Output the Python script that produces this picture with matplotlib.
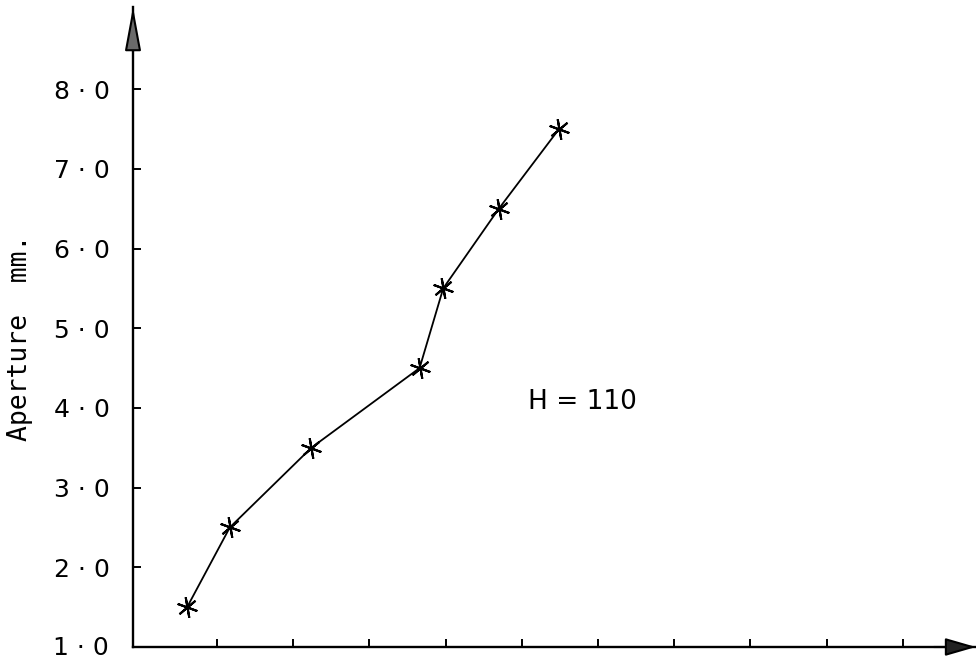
import matplotlib
matplotlib.use("Agg")
import matplotlib.pyplot as plt

# Aperture readings along the (unlabelled) horizontal scale
x_pos = [0.61, 1.17, 2.24, 3.66, 3.97, 4.70, 5.49]
aperture_mm = [1.5, 2.5, 3.5, 4.5, 5.5, 6.5, 7.5]

y_ticks = [1, 2, 3, 4, 5, 6, 7, 8]
y_tick_labels = ["1 · 0", "2 · 0", "3 · 0", "4 · 0", "5 · 0", "6 · 0", "7 · 0", "8 · 0"]
x_ticks = [1, 2, 3, 4, 5, 6, 7, 8, 9, 10]

y_label = "Aperture  mm."
note = "H = 110"
note_pos = (5.80, 4.07)

fig = plt.figure(figsize=(9.76, 6.65), dpi=100)
ax = fig.add_axes([133 / 976, 18 / 665, 1 - 133 / 976, (647 - 7) / 665])
ax.set_xlim(-0.10, 10.96)
ax.set_ylim(1.0, 1 + (647 - 7) / 79.7)

for side in ("top", "right"):
    ax.spines[side].set_visible(False)
for side in ("left", "bottom"):
    ax.spines[side].set_linewidth(1.7)
    ax.spines[side].set_color("black")

ax.set_yticks(y_ticks[1:])
ax.set_yticklabels(y_tick_labels[1:])
ax.set_xticks(x_ticks)
ax.set_xticklabels([])
ax.tick_params(axis="both", direction="in", length=6, width=1.4, color="black")
ax.tick_params(axis="y", pad=17, labelsize=18)

# label for the origin, at the axis crossing
ax.text(-0.10 - 24 / 76.2, 0.99, y_tick_labels[0], fontsize=18,
        ha="right", va="center", clip_on=False)

# arrow heads at the ends of both axes
ax.annotate("", xy=(0, 1.0), xytext=(0, 0.93), xycoords="axes fraction",
            textcoords="axes fraction",
            arrowprops=dict(arrowstyle="-|>,head_length=2.7,head_width=0.5",
                            mutation_scale=10, lw=1.5, ec="black",
                            fc="#6a6a6a", shrinkA=0, shrinkB=0))
ax.annotate("", xy=(1.0, 0), xytext=(0.95, 0), xycoords="axes fraction",
            textcoords="axes fraction",
            arrowprops=dict(arrowstyle="-|>,head_length=1.9,head_width=0.55",
                            mutation_scale=10, lw=1.5, ec="black",
                            fc="#222222", shrinkA=0, shrinkB=0))

ax.plot(x_pos, aperture_mm, color="black", lw=1.3,
        marker=(6, 2, 10), markersize=15, markeredgewidth=1.5,
        markeredgecolor="black", clip_on=False)

ax.text(note_pos[0], note_pos[1], note, fontsize=19, ha="center", va="center")

fig.text(20 / 976, 1 - 338 / 665, y_label, rotation=90, fontsize=19,
         family="DejaVu Sans Mono", ha="center", va="center")

fig.savefig("out.png", dpi=100)
